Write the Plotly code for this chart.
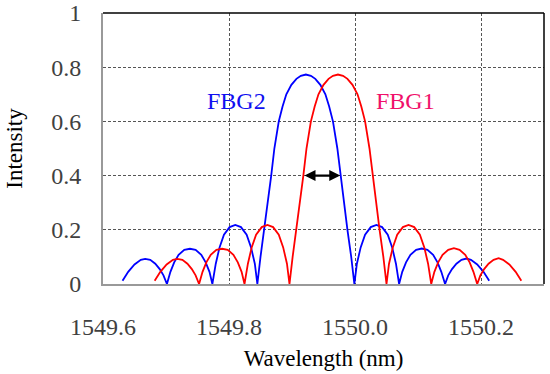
import plotly.graph_objects as go

# FBG2 (blue) reflection spectrum
fbg2_wl = [
    1549.631, 1549.640, 1549.650, 1549.660, 1549.667, 1549.675, 1549.683, 1549.690, 1549.696, 1549.7015,
    1549.707, 1549.713, 1549.720, 1549.729, 1549.738, 1549.747, 1549.756, 1549.763, 1549.769, 1549.7736,
    1549.779, 1549.785, 1549.792, 1549.801, 1549.810, 1549.819, 1549.828, 1549.835, 1549.841, 1549.845,
    1549.850, 1549.856, 1549.861, 1549.867, 1549.872, 1549.879, 1549.885, 1549.891, 1549.899, 1549.907, 1549.914, 1549.922,
    1549.930, 1549.937, 1549.945, 1549.953, 1549.959, 1549.965, 1549.972, 1549.977, 1549.983, 1549.988, 1549.994, 1549.999,
    1550.003, 1550.009, 1550.016, 1550.025, 1550.034, 1550.043, 1550.052, 1550.059, 1550.065, 1550.070,
    1550.075, 1550.081, 1550.088, 1550.097, 1550.106, 1550.115, 1550.124, 1550.131, 1550.137, 1550.143,
    1550.148, 1550.154, 1550.161, 1550.169, 1550.177, 1550.184, 1550.194, 1550.204, 1550.213,
]
fbg2_int = [
    0.012, 0.045, 0.072, 0.089, 0.093, 0.089, 0.075, 0.055, 0.032, 0.0,
    0.045, 0.080, 0.108, 0.126, 0.130, 0.126, 0.108, 0.080, 0.045, 0.0,
    0.075, 0.135, 0.182, 0.210, 0.218, 0.210, 0.182, 0.135, 0.075, 0.0,
    0.10, 0.20, 0.30, 0.40, 0.50, 0.60, 0.655, 0.70, 0.735, 0.757, 0.768, 0.773,
    0.768, 0.757, 0.735, 0.70, 0.655, 0.60, 0.50, 0.40, 0.30, 0.20, 0.10, 0.0,
    0.075, 0.135, 0.182, 0.210, 0.218, 0.210, 0.182, 0.135, 0.075, 0.0,
    0.045, 0.080, 0.108, 0.126, 0.131, 0.126, 0.108, 0.080, 0.045, 0.0,
    0.032, 0.055, 0.075, 0.089, 0.094, 0.089, 0.072, 0.045, 0.012,
]

# FBG1 (red) reflection spectrum
fbg1_wl = [
    1549.682, 1549.691, 1549.701, 1549.711, 1549.718, 1549.726, 1549.734, 1549.741, 1549.747, 1549.7525,
    1549.758, 1549.764, 1549.771, 1549.780, 1549.789, 1549.798, 1549.807, 1549.814, 1549.820, 1549.8246,
    1549.830, 1549.836, 1549.843, 1549.852, 1549.861, 1549.870, 1549.879, 1549.886, 1549.892, 1549.896,
    1549.901, 1549.907, 1549.912, 1549.918, 1549.923, 1549.930, 1549.936, 1549.942, 1549.950, 1549.958, 1549.965, 1549.973,
    1549.981, 1549.988, 1549.996, 1550.004, 1550.010, 1550.016, 1550.023, 1550.028, 1550.034, 1550.039, 1550.045, 1550.050,
    1550.054, 1550.060, 1550.067, 1550.076, 1550.085, 1550.094, 1550.103, 1550.110, 1550.116, 1550.121,
    1550.126, 1550.132, 1550.139, 1550.148, 1550.157, 1550.166, 1550.175, 1550.182, 1550.188, 1550.194,
    1550.199, 1550.205, 1550.212, 1550.220, 1550.228, 1550.235, 1550.245, 1550.255, 1550.264,
]
fbg1_int = [
    0.012, 0.045, 0.072, 0.089, 0.093, 0.089, 0.075, 0.055, 0.032, 0.0,
    0.045, 0.080, 0.108, 0.126, 0.130, 0.126, 0.108, 0.080, 0.045, 0.0,
    0.075, 0.135, 0.182, 0.210, 0.218, 0.210, 0.182, 0.135, 0.075, 0.0,
    0.10, 0.20, 0.30, 0.40, 0.50, 0.60, 0.655, 0.70, 0.735, 0.757, 0.768, 0.773,
    0.768, 0.757, 0.735, 0.70, 0.655, 0.60, 0.50, 0.40, 0.30, 0.20, 0.10, 0.0,
    0.075, 0.135, 0.182, 0.210, 0.218, 0.210, 0.182, 0.135, 0.075, 0.0,
    0.045, 0.080, 0.108, 0.126, 0.132, 0.126, 0.108, 0.080, 0.045, 0.0,
    0.032, 0.055, 0.075, 0.089, 0.095, 0.089, 0.072, 0.045, 0.012,
]

x_ticks = [1549.6, 1549.8, 1550.0, 1550.2]
x_tick_labels = ["1549.6", "1549.8", "1550.0", "1550.2"]
y_ticks = [0, 0.2, 0.4, 0.6, 0.8, 1]
y_tick_labels = ["0", "0.2", "0.4", "0.6", "0.8", "1"]

# spacing arrow between the two spectra at intensity 0.4
arrow_left = 1549.9175
arrow_right = 1549.9766
arrow_level = 0.4

label_fbg2 = ("FBG2", 1549.8115, 0.675)
label_fbg1 = ("FBG1", 1550.080, 0.675)

FONT = "'Liberation Serif', 'Times New Roman', Times, serif"

fig = go.Figure()
fig.add_trace(go.Scatter(x=fbg2_wl, y=fbg2_int, mode="lines",
                         line=dict(color="#0000FF", width=1.8), name="FBG2"))
fig.add_trace(go.Scatter(x=fbg1_wl, y=fbg1_int, mode="lines",
                         line=dict(color="#FF0000", width=1.8), name="FBG1"))

fig.add_annotation(x=arrow_right, y=arrow_level, ax=arrow_left, ay=arrow_level,
                   xref="x", yref="y", axref="x", ayref="y", text="",
                   showarrow=True, arrowhead=2, arrowside="end+start",
                   arrowsize=1, arrowwidth=2.2, arrowcolor="black")
fig.add_annotation(x=label_fbg2[1], y=label_fbg2[2], text=label_fbg2[0], showarrow=False,
                   font=dict(family=FONT, size=24, color="#1010F0"))
fig.add_annotation(x=label_fbg1[1], y=label_fbg1[2], text=label_fbg1[0], showarrow=False,
                   font=dict(family=FONT, size=24, color="#F0106A"))

# top and right borders are black
fig.add_shape(type="line", xref="paper", yref="paper", x0=0, x1=1, y0=1, y1=1,
              line=dict(color="black", width=1.5))
fig.add_shape(type="line", xref="paper", yref="paper", x0=1, x1=1, y0=0, y1=1,
              line=dict(color="black", width=1.5))

fig.update_layout(
    width=550, height=374,
    margin=dict(l=103, r=6, t=13, b=90, autoexpand=False),
    paper_bgcolor="white", plot_bgcolor="white",
    showlegend=False,
    font=dict(family=FONT, size=24, color="#404040"),
    xaxis=dict(
        range=[1549.6, 1550.3], tickvals=x_ticks, ticktext=x_tick_labels,
        showgrid=True, gridcolor="#555555", griddash="3px,2px", gridwidth=1,
        zeroline=False, showline=True, linecolor="#999999", linewidth=2,
        ticks="", ticklabelstandoff=20, automargin=False,
        title=dict(text="Wavelength (nm)", font=dict(family=FONT, size=23, color="black"), standoff=11),
    ),
    yaxis=dict(
        range=[0, 1], tickvals=y_ticks, ticktext=y_tick_labels,
        showgrid=True, gridcolor="#555555", griddash="3px,2px", gridwidth=1,
        zeroline=False, showline=True, linecolor="#999999", linewidth=2,
        ticks="", ticklabelstandoff=15, automargin=False,
        title=dict(text="Intensity", font=dict(family=FONT, size=23, color="black"), standoff=22),
    ),
)

fig.write_html("out.html", config={"displayModeBar": False},
               post_script="document.body.style.margin='0';")
